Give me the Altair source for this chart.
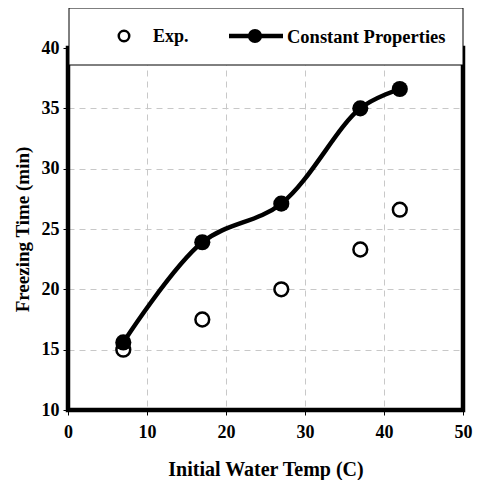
import altair as alt
import pandas as pd

temps = [7, 17, 27, 37, 42]
exp_time = [15.0, 17.5, 20.0, 23.3, 26.6]
const_time = [15.6, 23.9, 27.1, 35.0, 36.6]
x_ticks = [0, 10, 20, 30, 40, 50]
y_ticks = [10, 15, 20, 25, 30, 35, 40]

df = pd.DataFrame({"temp": temps, "exp": exp_time, "const": const_time})

FONT = "Liberation Serif"
W, H = 395, 362

x = alt.X("temp:Q", scale=alt.Scale(domain=[0, 50]),
          axis=alt.Axis(values=x_ticks, title="Initial Water Temp (C)", grid=True))
base = alt.Chart(df)

exp_pts = base.mark_point(shape="circle", filled=True, fill="white", stroke="black",
                          strokeWidth=2.5, size=190, opacity=1).encode(
    x=x,
    y=alt.Y("exp:Q", scale=alt.Scale(domain=[10, 40]),
            axis=alt.Axis(values=y_ticks, title="Freezing Time (min)", grid=True)),
)
line = base.mark_line(color="black", strokeWidth=4.5, interpolate="catmull-rom").encode(
    x=x, y=alt.Y("const:Q"))
const_pts = base.mark_point(shape="circle", filled=True, color="black", size=260, opacity=1).encode(
    x=x, y=alt.Y("const:Q"))

leg_df = pd.DataFrame({"d": [0]})
lb = alt.Chart(leg_df)
frame = lb.mark_rect(fill="white", fillOpacity=0, stroke="black", strokeWidth=4.5).encode(
    x=alt.value(0), x2=alt.value(W), y=alt.value(0), y2=alt.value(H))
leg_box = lb.mark_rect(fill="white", stroke="black", strokeWidth=1).encode(
    x=alt.value(1), x2=alt.value(W), y=alt.value(-40), y2=alt.value(17))
leg_open = lb.mark_point(shape="circle", filled=True, fill="white", stroke="black",
                         strokeWidth=2.5, size=110, opacity=1).encode(
    x=alt.value(56), y=alt.value(-12))
leg_t1 = lb.mark_text(text="Exp.", font=FONT, fontWeight="bold", fontSize=18,
                      align="left", baseline="middle").encode(x=alt.value(85), y=alt.value(-11))
leg_line = lb.mark_rule(color="black", strokeWidth=4.5).encode(
    x=alt.value(161), x2=alt.value(215), y=alt.value(-12))
leg_dot = lb.mark_point(shape="circle", filled=True, color="black", size=200, opacity=1).encode(
    x=alt.value(187), y=alt.value(-12))
leg_t2 = lb.mark_text(text="Constant Properties", font=FONT, fontWeight="bold", fontSize=18.5,
                      align="left", baseline="middle").encode(x=alt.value(219), y=alt.value(-11))

chart = alt.layer(exp_pts, line, const_pts, frame, leg_box, leg_open, leg_t1, leg_line, leg_dot, leg_t2).properties(
    width=W, height=H,
    autosize=alt.AutoSizeParams(type="none"),
    padding={"left": 60, "top": 40, "right": 10, "bottom": 70},
).configure_view(
    stroke=None
).configure_axis(
    labelFont=FONT, labelFontWeight="bold", labelFontSize=18, labelColor="black",
    titleFont=FONT, titleFontWeight="bold", titleFontSize=20, titleColor="black",
    domain=False, ticks=True, tickColor="black", tickSize=5, tickWidth=1,
    gridColor="#c8c8c8", gridDash=[6, 5], gridWidth=1, labelFlush=False,
).configure_axisX(
    labelPadding=8, titlePadding=18,
).configure_axisY(
    labelPadding=4, titlePadding=9, titleFontSize=19,
)

chart.save("out.html", embed_options={"renderer": "svg", "actions": False})
